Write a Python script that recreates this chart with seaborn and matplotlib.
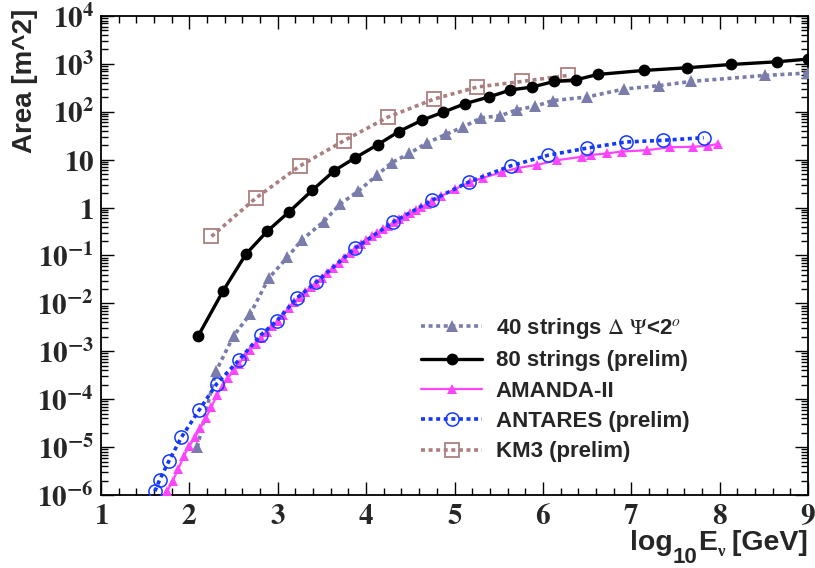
import numpy as np
import pandas as pd
import matplotlib
matplotlib.use("Agg")
import matplotlib.pyplot as plt
import seaborn as sns
from matplotlib.ticker import MultipleLocator, LogLocator, NullFormatter
from matplotlib.font_manager import FontProperties

# ---------------- data ----------------
s40_x = [2.09, 2.30, 2.50, 2.69, 2.90, 3.11, 3.27, 3.52, 3.71, 3.91, 4.12, 4.29, 4.49,
         4.69, 4.90, 5.10, 5.30, 5.52, 5.71, 5.91, 6.11, 6.50, 6.92, 7.31, 7.68, 8.51, 9.0]
s40_y = [1.0e-5, 3.8e-4, 2.1e-3, 6.1e-3, 0.034, 0.092, 0.21, 0.51, 1.2, 2.2, 4.7, 8.7, 13.5,
         22.6, 33.6, 48.5, 74.6, 83, 111, 130, 171, 204, 299, 351, 431, 574, 644]

s80_x = [2.10, 2.38, 2.64, 2.88, 3.13, 3.39, 3.64, 3.87, 4.13, 4.37, 4.63, 4.87, 5.12,
         5.39, 5.63, 5.88, 6.13, 6.375, 6.62, 7.14, 7.63, 8.13, 8.65, 9.0]
s80_y = [2.1e-3, 0.018, 0.107, 0.32, 0.82, 2.3, 5.9, 10.8, 20.5, 38.7, 66.5, 98, 148,
         204, 284, 330, 431, 466, 602, 730, 830, 973, 1107, 1260]

amanda_x = [1.75, 1.8125, 1.875, 1.9375, 2.0, 2.0625, 2.125, 2.1875, 2.25, 2.3125, 2.375,
            2.4375, 2.5, 2.5625, 2.625, 2.6875, 2.75, 2.8125, 2.875, 2.9375, 3.0, 3.0625,
            3.125, 3.1875, 3.25, 3.3125, 3.375, 3.4375, 3.5, 3.5625, 3.625, 3.6875, 3.75,
            3.8125, 3.875, 3.9375, 4.0, 4.0625, 4.125, 4.1875, 4.25, 4.3125, 4.375, 4.4375,
            4.5, 4.5625, 4.625, 4.6875, 4.75, 4.85, 5.0, 5.17, 5.32, 5.54, 5.72, 5.93, 6.16,
            6.44, 6.55, 6.72, 6.89, 7.18, 7.44, 7.70, 7.87, 7.98]
amanda_y = [1.2e-6, 2.0e-6, 3.5e-6, 6.5e-6, 1.05e-5, 1.6e-5, 2.5e-5, 4.1e-5, 6.9e-5, 1.23e-4,
            1.9e-4, 2.75e-4, 4.0e-4, 5.5e-4, 7.9e-4, 1.07e-3, 1.41e-3, 1.9e-3, 2.5e-3, 3.3e-3,
            4.3e-3, 5.8e-3, 7.9e-3, 0.0107, 0.0138, 0.0174, 0.0219, 0.0272, 0.0347, 0.0437,
            0.0556, 0.070, 0.088, 0.111, 0.140, 0.172, 0.209, 0.251, 0.295, 0.351, 0.412,
            0.490, 0.569, 0.661, 0.776, 0.891, 1.02, 1.19, 1.38, 1.74, 2.40, 3.39, 4.17, 5.50,
            6.76, 7.76, 9.77, 11.5, 12.6, 13.5, 14.8, 15.8, 18.2, 18.6, 19.5, 21.4]

antares_x = [1.61, 1.665, 1.77, 1.91, 2.11, 2.31, 2.565, 2.81, 2.99, 3.215, 3.435, 3.87,
             4.30, 4.75, 5.165, 5.635, 6.06, 6.495, 6.935, 7.36, 7.82]
antares_y = [1.2e-6, 2.1e-6, 5.2e-6, 1.6e-5, 5.9e-5, 2.1e-4, 6.7e-4, 2.2e-3, 4.3e-3, 0.0129,
             0.0277, 0.141, 0.49, 1.44, 3.45, 7.43, 12.4, 17.4, 23.4, 25.4, 28.8]

km3_x = [2.25, 2.75, 3.25, 3.75, 4.25, 4.77, 5.26, 5.76, 6.28]
km3_y = [0.25, 1.57, 7.4, 25, 78, 185, 330, 430, 574]

xtick_vals = [1, 2, 3, 4, 5, 6, 7, 8, 9]
xtick_labels = ["1", "2", "3", "4", "5", "6", "7", "8", "9"]
ytick_exps = [-6, -5, -4, -3, -2, -1, 0, 1, 2, 3, 4]
ytick_labels = [r"$\mathbf{10^{-6}}$", r"$\mathbf{10^{-5}}$", r"$\mathbf{10^{-4}}$",
                r"$\mathbf{10^{-3}}$", r"$\mathbf{10^{-2}}$", r"$\mathbf{10^{-1}}$",
                r"$\mathbf{1}$", r"$\mathbf{10}$", r"$\mathbf{10^{2}}$",
                r"$\mathbf{10^{3}}$", r"$\mathbf{10^{4}}$"]

legend_labels = [r"40 strings $\Delta$ $\Psi$<2$^{o}$", "80 strings (prelim)", "AMANDA-II",
                 "ANTARES (prelim)", "KM3 (prelim)"]

# x-axis title pieces: (text, fontsize, baseline shift in px)
xlabel_parts = [("log", 20.5, 0), ("10", 16, -13), ("E", 20.5, 0), ("\u03bd", 12, -6),
                (" [GeV]", 20.5, 0)]

# ---------------- style ----------------
sns.set_style("ticks")
plt.rcParams["font.family"] = ["Liberation Sans", "DejaVu Sans"]
plt.rcParams["mathtext.fontset"] = "stix"

W, H = 815, 568
fig = plt.figure(figsize=(W / 100, H / 100), dpi=100)
L, R, T, B = 101, 808, 16, 495
ax = fig.add_axes([L / W, 1 - B / H, (R - L) / W, (B - T) / H])

c40 = "#7a7dab"
c80 = "#000000"
cam = "#ff44ff"
can = "#1238ff"
ckm = "#ab7f7f"
dot = (0, (1.1, 1.0))

df40 = pd.DataFrame({"x": s40_x, "y": s40_y})
df80 = pd.DataFrame({"x": s80_x, "y": s80_y})
dfam = pd.DataFrame({"x": amanda_x, "y": amanda_y})
dfan = pd.DataFrame({"x": antares_x, "y": antares_y})
dfkm = pd.DataFrame({"x": km3_x, "y": km3_y})

sns.lineplot(data=df40, x="x", y="y", ax=ax, sort=False, estimator=None, color=c40,
             lw=2.6, linestyle=dot, marker="^", markersize=9, markeredgewidth=0,
             markerfacecolor=c40, label=legend_labels[0], zorder=3)
sns.lineplot(data=dfkm, x="x", y="y", ax=ax, sort=False, estimator=None, color=ckm,
             lw=2.6, linestyle=dot, marker="s", markersize=9.5, markeredgewidth=1.3,
             markerfacecolor="none", markeredgecolor=ckm, label=legend_labels[4], zorder=3)
sns.lineplot(data=df80, x="x", y="y", ax=ax, sort=False, estimator=None, color=c80,
             lw=2.4, linestyle="-", marker="o", markersize=8.5, markeredgewidth=0,
             markerfacecolor=c80, label=legend_labels[1], zorder=4)
sns.lineplot(data=dfam, x="x", y="y", ax=ax, sort=False, estimator=None, color=cam,
             lw=1.6, linestyle="-", marker="^", markersize=7.5, markeredgewidth=0,
             markerfacecolor=cam, label=legend_labels[2], zorder=5)
sns.lineplot(data=dfan, x="x", y="y", ax=ax, sort=False, estimator=None, color=can,
             lw=2.6, linestyle=dot, marker="o", markersize=9.5, markeredgewidth=1.1,
             markerfacecolor="none", markeredgecolor=can, label=legend_labels[3], zorder=6)

ax.set_xscale("linear")
ax.set_yscale("log")
ax.set_xlim(1, 9)
ax.set_ylim(1e-6, 1e4)
ax.set_xlabel("")
ax.set_ylabel("")

ax.set_xticks(xtick_vals)
ax.set_xticklabels([r"$\mathbf{%s}$" % s for s in xtick_labels])
ax.xaxis.set_minor_locator(MultipleLocator(0.2))
ax.set_yticks([10.0 ** e for e in ytick_exps])
ax.set_yticklabels(ytick_labels)
ax.yaxis.set_minor_locator(LogLocator(base=10, subs=np.arange(2, 10), numticks=100))
ax.yaxis.set_minor_formatter(NullFormatter())

ax.tick_params(which="both", direction="in", top=True, right=True, width=1.0, color="black")
ax.tick_params(which="major", length=9.5)
ax.tick_params(which="minor", length=5)
ax.tick_params(axis="x", which="major", labelsize=21, pad=5)
ax.tick_params(axis="y", which="major", labelsize=21, pad=5)
for lab in ax.get_xticklabels() + ax.get_yticklabels():
    lab.set_math_fontfamily("stix")
for sp in ax.spines.values():
    sp.set_linewidth(1.3)
    sp.set_color("black")

# legend
handles, labels = ax.get_legend_handles_labels()
order = [labels.index(l) for l in legend_labels]
prop = FontProperties(family="Liberation Sans", weight="bold", size=16, math_fontfamily="stix")
leg = ax.legend([handles[i] for i in order], [labels[i] for i in order],
                loc="upper left", bbox_to_anchor=(421 / W, 1 - 316 / H),
                bbox_transform=fig.transFigure, frameon=False, prop=prop,
                borderpad=0, borderaxespad=0, handlelength=2.75, handletextpad=0.62,
                labelspacing=0.42, numpoints=1)

# y-axis title
fig.text(25 / W, 1 - 9 / H, "Area [m^2]", rotation=90, ha="center", va="top",
         fontsize=20, fontweight="bold", family="Liberation Sans")

# x-axis title composed of pieces with lowered subscripts, right aligned at 808 px
renderer = fig.canvas.get_renderer()
base_y = 550
pieces = []
xpos = 0.0
for txt, fs, dy in xlabel_parts:
    fam = "Liberation Serif" if txt == "\u03bd" else "Liberation Sans"
    t = fig.text(0, 0, txt, fontsize=fs, fontweight="bold", family=fam,
                 ha="left", va="baseline", transform=None)
    w = t.get_window_extent(renderer).width
    pieces.append((t, xpos, dy))
    xpos += w
start = 808 - xpos
for t, xo, dy in pieces:
    t.set_position((start + xo, H - base_y + dy))

fig.savefig("out.png", dpi=100)
